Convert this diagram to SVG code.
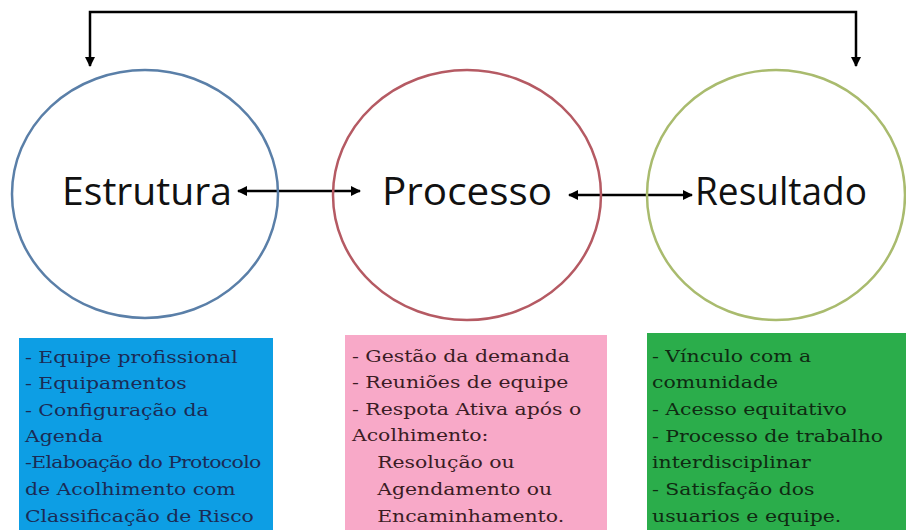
<svg xmlns="http://www.w3.org/2000/svg" width="906" height="530" viewBox="0 0 906 530">
<style>
.circ{fill:none;stroke-width:2.5}
.big{font-family:"Open Sans","Liberation Sans",sans-serif;font-size:39px;fill:#111}
.bt{font-family:"DejaVu Serif","Liberation Serif",serif;font-size:17px}
.con{stroke:#000;stroke-width:2.5;fill:none}
</style>
<defs>
<marker id="ah" viewBox="0 0 10 10" refX="9" refY="5" markerWidth="4" markerHeight="4" orient="auto-start-reverse">
<path d="M0,0 L10,5 L0,10 z" fill="#000"/>
</marker>
</defs>
<rect width="906" height="530" fill="#fff"/>
<g id="connectors">
<path class="con" d="M90,66 V12 H856 V66" marker-start="url(#ah)" marker-end="url(#ah)"/>
<path class="con" d="M238,191 H360" marker-start="url(#ah)" marker-end="url(#ah)"/>
<path class="con" d="M569,195 H692" marker-start="url(#ah)" marker-end="url(#ah)"/>
</g>
<g id="estrutura">
<ellipse class="circ" cx="145" cy="194" rx="133" ry="124" stroke="#5a7fa8"/>
<text class="big" x="62" y="205" textLength="170" lengthAdjust="spacingAndGlyphs">Estrutura</text>
</g>
<g id="processo">
<ellipse class="circ" cx="467" cy="195" rx="134" ry="125" stroke="#b55a63"/>
<text class="big" x="382" y="205" textLength="170" lengthAdjust="spacingAndGlyphs">Processo</text>
</g>
<g id="resultado">
<ellipse class="circ" cx="776" cy="195" rx="129" ry="125" stroke="#a9bb6e"/>
<text class="big" x="695" y="205" textLength="172" lengthAdjust="spacingAndGlyphs">Resultado</text>
</g>
<g id="box-estrutura">
<rect x="19" y="338" width="254" height="192" fill="#0d9ee4"/>
<g class="bt" fill="#1b2b55" transform="matrix(1.2,0,0,1,-5,0)">
<text x="25" y="363">- Equipe profissional</text>
<text x="25" y="389">- Equipamentos</text>
<text x="25" y="416">- Configuração da</text>
<text x="25" y="442">Agenda</text>
<text x="25" y="468" textLength="197" lengthAdjust="spacing">-Elaboação do Protocolo</text>
<text x="25" y="495">de Acolhimento com</text>
<text x="25" y="522">Classificação de Risco</text>
</g>
</g>
<g id="box-processo">
<rect x="345" y="335" width="262" height="195" fill="#f8a9c8"/>
<g class="bt" fill="#3a1c24" transform="matrix(1.2,0,0,1,-70.4,0)">
<text x="352" y="362">- Gestão da demanda</text>
<text x="352" y="388">- Reuniões de equipe</text>
<text x="352" y="415">- Respota Ativa após o</text>
<text x="352" y="441">Acolhimento:</text>
<text x="373" y="468">Resolução ou</text>
<text x="373" y="495">Agendamento ou</text>
<text x="373" y="522">Encaminhamento.</text>
</g>
</g>
<g id="box-resultado">
<rect x="647" y="333" width="259" height="197" fill="#2bad4b"/>
<g class="bt" fill="#0f2a12" transform="matrix(1.2,0,0,1,-130.4,0)">
<text x="652" y="362">- Vínculo com a</text>
<text x="652" y="388">comunidade</text>
<text x="652" y="415">- Acesso equitativo</text>
<text x="652" y="442">- Processo de trabalho</text>
<text x="652" y="468">interdisciplinar</text>
<text x="652" y="495">- Satisfação dos</text>
<text x="652" y="522">usuarios e equipe.</text>
</g>
</g>
</svg>
